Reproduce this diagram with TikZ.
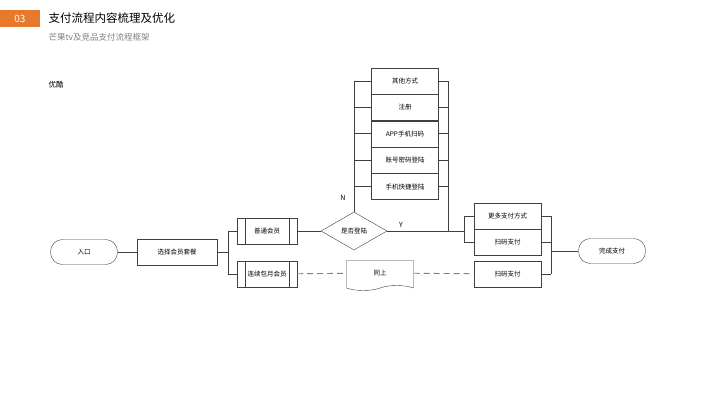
\documentclass[tikz,border=0pt]{standalone}
\usepackage{fontspec}
\setmainfont{Noto Sans CJK SC}
\usetikzlibrary{shapes.geometric,shapes.symbols,positioning}
\definecolor{brandorange}{HTML}{E8792C}
\definecolor{linegray}{HTML}{404040}
\tikzset{
  box/.style={draw=linegray, fill=white, minimum width=67pt, minimum height=26pt, font=\fontsize{6.5}{7}\selectfont},
  proc/.style={box, minimum width=60pt},
  term/.style={draw=linegray, rounded corners=12pt, minimum width=67pt, minimum height=25pt, font=\fontsize{6.5}{7}\selectfont},
  link/.style={draw=linegray, line width=0.9pt},
  dashlink/.style={draw=gray, line width=0.9pt, dash pattern=on 6pt off 4pt}
}
\begin{document}
\begin{tikzpicture}[x=1pt,y=-1pt]
\useasboundingbox (0,0) rectangle (720,405);

% header
\fill[brandorange] (0,10) rectangle (40,27);
\node[text=white, font=\fontsize{10}{11}\selectfont] (num) at (20,18.5) {03};
\node[anchor=west, font=\fontsize{11.5}{12}\selectfont] (title) at (45,18) {支付流程内容梳理及优化};
\node[anchor=west, text=gray, font=\fontsize{8.5}{9}\selectfont] (sub) at (45,37) {芒果tv及竞品支付流程框架};
\node[anchor=west, font=\fontsize{7.5}{8}\selectfont] (yk) at (45,85) {优酷};

% left part
\node[term] (entry) at (84,252) {入口};
\node[box, minimum width=80pt] (choose) at (177,252) {选择会员套餐};
\node[proc] (normal) at (267,231) {普通会员};
\node[proc] (monthly) at (267,274) {连续包月会员};
\foreach \n in {normal,monthly}
  \draw[linegray] ([xshift=8pt]\n.north west) -- ([xshift=8pt]\n.south west)
                  ([xshift=-8pt]\n.north east) -- ([xshift=-8pt]\n.south east);
\draw[link] (entry) -- (choose);
\coordinate (split) at (228,252);
\draw[link] (choose) -- (split) (split |- normal) -- (split |- monthly);
\draw[link] (split |- normal) -- (normal.west);
\draw[link] (split |- monthly) -- (monthly.west);

% login decision
\node[diamond, draw=linegray, aspect=1.7, inner sep=1pt, minimum width=66pt, minimum height=38pt, font=\fontsize{6.5}{7}\selectfont] (login) at (354,231) {是否登陆};
\draw[link] (normal) -- (login);

% login options
\node[box] (other) at (405,81) {其他方式};
\node[box, below=0pt of other] (reg) {注册};
\node[box, below=0pt of reg] (app) {APP手机扫码};
\node[box, below=0pt of app] (acct) {账号密码登陆};
\node[box, below=0pt of acct] (phone) {手机快捷登陆};
\coordinate (lv) at (354,81);
\coordinate (rv) at (448,81);
\draw[link] (lv) -- (login.north);
\draw[link] (rv) -- (rv |- login);
\foreach \n in {other,reg,app,acct,phone}
  \draw[link] (lv |- \n) -- (\n.west) (\n.east) -- (rv |- \n);
\node[font=\fontsize{7}{8}\selectfont] (nlab) at (343,198) {N};
\node[font=\fontsize{7}{8}\selectfont] (ylab) at (401,225) {Y};

% payment
\node[box] (more) at (507.5,216) {更多支付方式};
\node[box, below=0pt of more] (scan) {扫码支付};
\node[box] (scan2) at (507.5,274) {扫码支付};
\coordinate (pl) at (464,231);
\draw[link] (login.east) -- (pl);
\draw[link] (pl |- more) -- (pl |- scan);
\draw[link] (pl |- more) -- (more.west) (pl |- scan) -- (scan.west);

% same as above
\node[tape, tape bend top=none, draw=linegray, fill=white, minimum width=67pt, minimum height=30pt, font=\fontsize{6.5}{7}\selectfont] (same) at (380,273) {同上};
\draw[dashlink] (monthly) -- (same);
\draw[dashlink] (same) -- (scan2);

% finish
\node[term] (done) at (612,251) {完成支付};
\coordinate (pr) at (551,251);
\draw[link] (pr |- more) -- (pr |- scan2);
\foreach \n in {more,scan,scan2}
  \draw[link] (\n.east) -- (pr |- \n);
\draw[link] (pr) -- (done);
\end{tikzpicture}
\end{document}
